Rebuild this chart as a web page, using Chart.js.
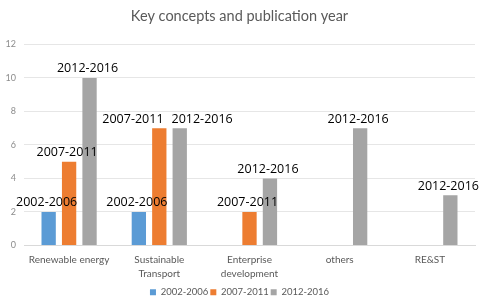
<!DOCTYPE html>
<html>
<head>
<meta charset="utf-8">
<script src="https://cdn.jsdelivr.net/npm/chart.js@4/dist/chart.umd.min.js"></script>
<style>
  html, body { margin: 0; padding: 0; background: #fff; }
</style>
</head>
<body>
<canvas id="chart" width="483" height="302"></canvas>
<script>
// categories and series
var categories = ["Renewable energy", ["Sustainable", "Transport"], ["Enterprise", "development"], "others", "RE&ST"];
var seriesNames = ["2002-2006", "2007-2011", "2012-2016"];
var s2002 = [2, 2, 0, 0, 0];
var s2007 = [5, 7, 2, 0, 0];
var s2012 = [10, 7, 4, 7, 3];
var yTicks = [0, 2, 4, 6, 8, 10, 12];
var colors = ["#5b9bd5", "#ed7d31", "#a5a5a5"];

// draws the series name above every non-zero bar, pushing apart labels that collide
var barNames = {
	id: "barNames",
	afterDatasetsDraw: function(chart) {
		var ctx = chart.ctx;
		ctx.save();
		ctx.font = "12.5px 'Open Sans'";
		ctx.fillStyle = "#000";
		ctx.textAlign = "center";
		ctx.textBaseline = "bottom";
		var items = [];
		chart.data.datasets.forEach(function(ds, i) {
			var meta = chart.getDatasetMeta(i);
			meta.data.forEach(function(bar, j) {
				if (ds.data[j] > 0) {
					items.push({ text: ds.label, x: bar.x - 2, y: bar.y - 3, w: ctx.measureText(ds.label).width, cat: j });
				}
			});
		});
		for (var a = 0; a < items.length; a++) {
			for (var b = a + 1; b < items.length; b++) {
				var p = items[a], q = items[b];
				if (p.cat === q.cat && Math.abs(p.y - q.y) < 12 && Math.abs(p.x - q.x) < (p.w + q.w) / 2) {
					var mid = (p.x + q.x) / 2, half = (p.w + q.w) / 4 + 4;
					var left = p.x < q.x ? p : q, right = p.x < q.x ? q : p;
					left.x = mid - half;
					right.x = mid + half;
				}
			}
		}
		items.forEach(function(it) { ctx.fillText(it.text, it.x, it.y); });
		ctx.restore();
	}
};

var sets = [s2002, s2007, s2012].map(function(d, i) {
	return {
		label: seriesNames[i],
		data: d,
		backgroundColor: colors[i],
		barPercentage: 0.7,
		categoryPercentage: 0.68
	};
});

new Chart(document.getElementById("chart"), {
	type: "bar",
	data: { labels: categories, datasets: sets },
	plugins: [barNames],
	options: {
		responsive: false,
		animation: false,
		layout: { padding: { left: 4, right: 8, top: 0, bottom: -5 } },
		plugins: {
			title: {
				display: true,
				text: "Key concepts and publication year",
				color: "#595959",
				font: { family: "Lato", size: 14.5, weight: "normal" },
				padding: { top: 8, bottom: 19 }
			},
			legend: {
				position: "bottom",
				labels: {
					boxWidth: 6, boxHeight: 6, color: "#595959",
					font: { family: "Lato", size: 9.5 },
					padding: 2
				}
			},
			tooltip: { enabled: false }
		},
		scales: {
			x: {
				grid: { display: false, drawTicks: false },
				border: { color: "#d9d9d9" },
				ticks: { color: "#595959", font: { family: "Lato", size: 10, lineHeight: 1.35 }, maxRotation: 0, autoSkip: false, padding: 8 },
				afterFit: function(axis) { axis.height -= 3; }
			},
			y: {
				min: 0, max: 12,
				afterBuildTicks: function(axis) { axis.ticks = yTicks.map(function(v) { return { value: v }; }); },
				grid: { color: "#e6e6e6", drawTicks: false },
				border: { display: false },
				ticks: { color: "#8c8c8c", font: { family: "Lato", size: 9 }, padding: 8, autoSkip: false },
				afterFit: function(axis) { axis.width = 20; }
			}
		}
	}
});
</script>
</body>
</html>
